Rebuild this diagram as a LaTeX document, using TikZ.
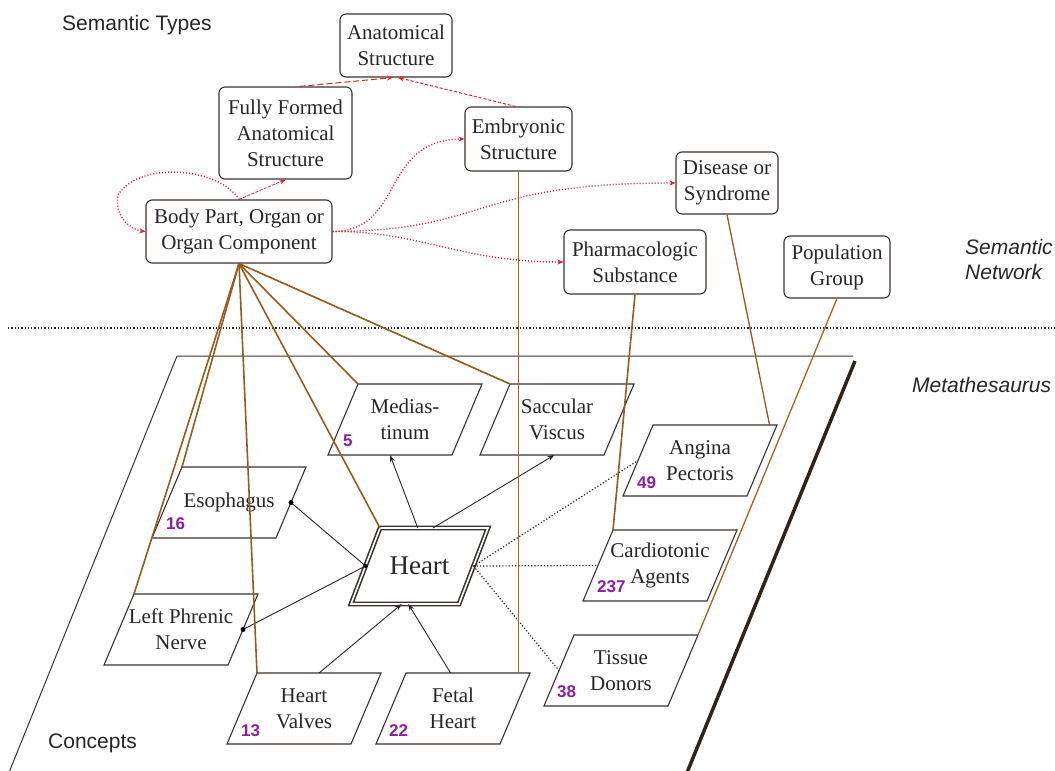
\documentclass[tikz,border=0pt]{standalone}
\usepackage{fontspec}
\setmainfont{Liberation Serif}
\setsansfont{Liberation Sans}
\usetikzlibrary{arrows.meta,calc}

\definecolor{boxline}{RGB}{60,50,45}
\definecolor{isared}{RGB}{225,35,45}
\definecolor{stbrown}{RGB}{150,92,28}
\definecolor{stlight}{RGB}{165,100,30}
\definecolor{cntpurple}{RGB}{140,30,170}
\definecolor{planeedge}{RGB}{50,35,25}

\tikzset{
  stype/.style={draw=boxline, line width=1.1pt, rounded corners=6pt, fill=white,
    align=center, inner sep=0pt, text=black!85, font=\fontsize{21}{26}\selectfont},
  ctext/.style={align=center, inner sep=0pt, text=black!85, font=\fontsize{21}{26}\selectfont},
  cbox/.style={draw=boxline, line width=1.1pt, fill=white},
  tally/.style={anchor=west, inner sep=0pt, text=cntpurple,
    font=\sffamily\bfseries\fontsize{17}{17}\selectfont},
  annot/.style={inner sep=0pt, text=black!85, font=\sffamily\fontsize{21}{25}\selectfont},
  isa/.style={isared, line width=1pt, -{Stealth[length=6pt,width=5pt]}},
  stlink/.style={stbrown, line width=1.6pt},
  stlinkthin/.style={stlight, line width=1.5pt},
  relarrow/.style={black!85, line width=0.9pt, -{Stealth[length=7pt,width=5pt]}},
  reldot/.style={black!85, line width=1.2pt, dotted},
  partline/.style={black!85, line width=0.9pt},
  knob/.style={circle, fill=black, inner sep=0pt, minimum size=5pt},
}

% concept box: name, top-left x, top y, text
\newcommand{\conceptbox}[4]{%
  \path (#2,#3) coordinate (#1-tl) ++(124,0) coordinate (#1-tr)
        ++(-30,71) coordinate (#1-br) ++(-124,0) coordinate (#1-bl);
  \draw[cbox] (#1-tl) -- (#1-tr) -- (#1-br) -- (#1-bl) -- cycle;
  \node[ctext] (#1) at ($(#1-tl)!0.5!(#1-br)$) {#4};
}

\begin{document}
\begin{tikzpicture}[x=1pt,y=-1pt]
\useasboundingbox[fill=white] (0,0) rectangle (1055,771);

% side labels
\node[annot, anchor=west] (semtypes) at (62,25) {Semantic Types};
\node[annot, anchor=west, align=left, font=\sffamily\itshape\fontsize{21}{25}\selectfont]
  (semnet) at (965,259) {Semantic\\Network};
\node[annot, anchor=west, font=\sffamily\itshape\fontsize{21}{25}\selectfont]
  (meta) at (912,385) {Metathesaurus};
\node[annot, anchor=west] (concepts) at (48,743) {Concepts};

% layer separator
\draw[black!85, line width=1.3pt, dotted] (8,328) -- (1055,328);

% concept plane
\draw[boxline, line width=1pt] (8,775) -- (177,356) -- (853,356);
\draw[planeedge, line width=3.5pt] (855,361) -- (686,775);

% concepts
\conceptbox{med}{358}{384}{Medias-\\tinum}
\conceptbox{sac}{510}{384}{Saccular\\Viscus}
\conceptbox{eso}{182}{467}{Esophagus}
\conceptbox{lpn}{134}{594}{Left Phrenic\\Nerve}
\conceptbox{ang}{653}{425}{Angina\\Pectoris}
\conceptbox{card}{613}{530}{Cardiotonic\\Agents}
\conceptbox{tis}{574}{635}{Tissue\\Donors}
\conceptbox{hv}{257}{673}{Heart\\Valves}
\conceptbox{fh}{406}{673}{Fetal\\Heart}

\path (380,528) coordinate (hrt-tl) ++(108,0) coordinate (hrt-tr)
      ++(-29,76) coordinate (hrt-br) ++(-108,0) coordinate (hrt-bl);
\draw[boxline, line width=1.6pt, double=white, double distance=1.6pt, fill=white]
  (hrt-tl) -- (hrt-tr) -- (hrt-br) -- (hrt-bl) -- cycle;
\node[ctext, font=\fontsize{27}{30}\selectfont] (hrt) at ($(hrt-tl)!0.5!(hrt-br)$) {Heart};

% concept counts
\node[tally] (n5)   at ($(med-bl)+(15,-14)$) {5};
\node[tally] (n16)  at ($(eso-bl)+(14,-14)$) {16};
\node[tally] (n49)  at ($(ang-bl)+(14,-13)$) {49};
\node[tally] (n237) at ($(card-bl)+(14,-14)$) {237};
\node[tally] (n38)  at ($(tis-bl)+(13,-14)$) {38};
\node[tally] (n13)  at ($(hv-bl)+(14,-13)$) {13};
\node[tally] (n22)  at ($(fh-bl)+(13,-13)$) {22};

% relations between concepts
\draw[relarrow] ($(hrt-tl)!0.35!(hrt-tr)$) -- ($(med-bl)!0.5!(med-br)$);
\draw[relarrow] ($(hrt-tl)!0.49!(hrt-tr)$) -- ($(sac-bl)!0.6!(sac-br)$);
\draw[relarrow] ($(hv-tl)!0.5!(hv-tr)$) -- ($(hrt-bl)!0.47!(hrt-br)$);
\draw[relarrow] ($(fh-tl)!0.36!(fh-tr)$) -- ($(hrt-bl)!0.53!(hrt-br)$);

\coordinate (hrt-l) at ($(hrt-tl)!0.5!(hrt-bl)$);
\coordinate (hrt-r) at ($(hrt-tr)!0.5!(hrt-br)$);
\coordinate (eso-r) at ($(eso-tr)!0.5!(eso-br)$);
\coordinate (lpn-r) at ($(lpn-tr)!0.5!(lpn-br)$);
\draw[partline] (eso-r) -- (hrt-l);
\draw[partline] (lpn-r) -- (hrt-l);
\node[knob] (k1) at (eso-r) {};
\node[knob] (k2) at (lpn-r) {};
\node[knob, minimum size=4pt] (k3) at (hrt-l) {};

\draw[reldot] (hrt-r) -- ($(ang-tl)!0.5!(ang-bl)$);
\draw[reldot] (hrt-r) -- ($(card-tl)!0.5!(card-bl)$);
\draw[reldot] (hrt-r) -- ($(tis-tl)!0.5!(tis-bl)$);

% semantic types
\node[stype, minimum width=112pt, minimum height=63pt] (anat) at (396,45.5) {Anatomical\\Structure};
\node[stype, minimum width=133pt, minimum height=92pt] (ffas) at (285.5,133) {Fully Formed\\Anatomical\\Structure};
\node[stype, minimum width=107pt, minimum height=64pt] (embr) at (518.5,139) {Embryonic\\Structure};
\node[stype, minimum width=186pt, minimum height=63pt] (body) at (239,231.5) {Body Part, Organ or\\Organ Component};
\node[stype, minimum width=142pt, minimum height=64pt] (pharm) at (635,262) {Pharmacologic\\Substance};
\node[stype, minimum width=102pt, minimum height=62pt] (dis) at (727,183) {Disease or\\Syndrome};
\node[stype, minimum width=106pt, minimum height=62pt] (pop) at (837,267) {Population\\Group};

% concept to semantic type links
\draw[stlink] (body.south) -- (eso-tl);
\draw[stlink] (body.south) -- (lpn-tl);
\draw[stlink] (body.south) -- (hv-tl);
\draw[stlink] (body.south) -- (hrt-tl);
\draw[stlink] (body.south) -- (med-tl);
\draw[stlink] (body.south) -- (sac-tl);
\draw[stlinkthin] (embr.south) -- (embr.south |- fh-tl);
\draw[stlink] (pharm.south) -- (card-tl);
\draw[stlink, line width=1.3pt] (dis.south) -- ($(ang-tl)!0.94!(ang-tr)$);
\draw[stlinkthin, line width=1.3pt] (pop.south) -- (tis-tr);

% semantic network relations
\draw[isa, dash pattern=on 6pt off 3pt] ($(ffas.north)+(14,0)$) -- ($(anat.south)+(-3,0)$);
\draw[isa, dash pattern=on 3pt off 2pt] ($(embr.north)+(-3,0)$) -- ($(anat.south)+(2,0)$);
\draw[isa, dash pattern=on 3pt off 1.5pt, line width=0.8pt] (body.north) -- (ffas.south);
\draw[isa, dotted, line width=1.4pt] (body.north)
  .. controls (220,168) and (140,160) .. (118,195)
  .. controls (114,218) and (132,230) .. (body.west);
\draw[isa, dotted, line width=1.4pt] (body.east) .. controls (405,231) and (380,140) .. (embr.west);
\draw[isa, dotted, line width=1.4pt] (body.east) .. controls (490,231) and (470,183) .. (dis.west);
\draw[isa, dotted, line width=1.4pt] (body.east) .. controls (420,231) and (460,262) .. (pharm.west);
\end{tikzpicture}
\end{document}
